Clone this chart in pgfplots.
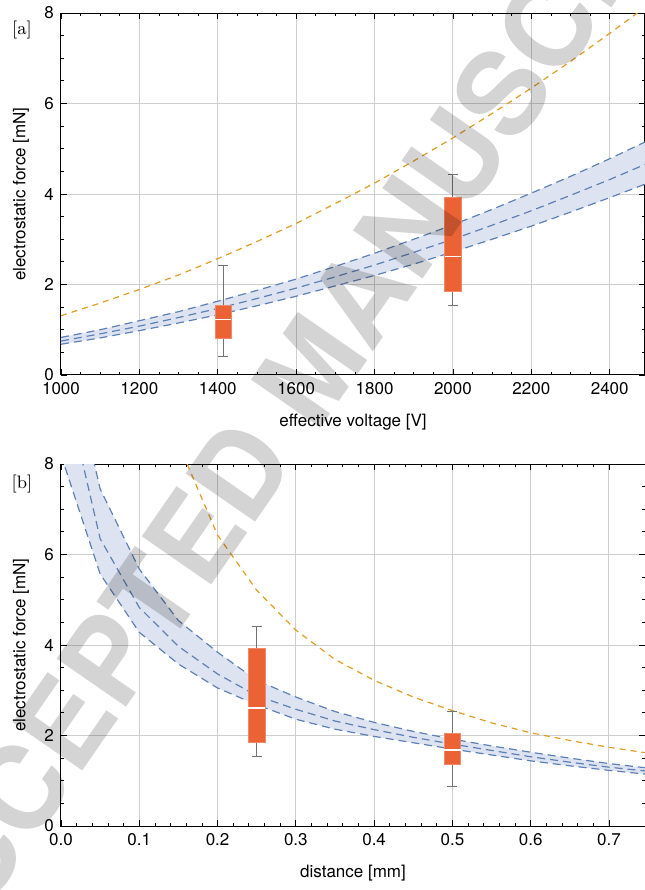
\documentclass[border=0pt]{standalone}
\usepackage{fontspec}
\setsansfont{TeX Gyre Heros}
\usepackage{pgfplots}
\usepackage{pgfplotstable}
\pgfplotsset{compat=1.18}
\usepgfplotslibrary{statistics}

\definecolor{mblue}{rgb}{0.368417,0.506779,0.709798}
\definecolor{morange}{rgb}{0.880722,0.611041,0.142051}
\definecolor{mred}{rgb}{0.922526,0.385626,0.209179}
\definecolor{bandc}{RGB}{221,227,240}
\definecolor{gridc}{RGB}{206,206,206}

% effective voltage [V], model band (upper/mid/lower) and second model (orange)
\pgfplotstableread{
V    up   mid  lo   orange
1000 0.83 0.75 0.68 1.31
1100 1.00 0.91 0.82 1.59
1200 1.20 1.08 0.98 1.89
1300 1.40 1.27 1.15 2.21
1400 1.63 1.47 1.33 2.57
1500 1.87 1.69 1.53 2.95
1600 2.12 1.92 1.74 3.35
1700 2.40 2.17 1.97 3.79
1800 2.69 2.43 2.20 4.24
1900 3.00 2.71 2.45 4.73
2000 3.32 3.00 2.72 5.24
2100 3.66 3.31 3.00 5.78
2200 4.02 3.63 3.29 6.34
2300 4.39 3.97 3.60 6.93
2400 4.78 4.32 3.92 7.55
2500 5.19 4.69 4.25 8.19
}\voltdata

% band outline for (a): upper edge forward, lower edge back
\pgfplotstableread{
V    F
1000 0.83
1100 1.00
1200 1.20
1300 1.40
1400 1.63
1500 1.87
1600 2.12
1700 2.40
1800 2.69
1900 3.00
2000 3.32
2100 3.66
2200 4.02
2300 4.39
2400 4.78
2500 5.19
2500 4.25
2400 3.92
2300 3.60
2200 3.29
2100 3.00
2000 2.72
1900 2.45
1800 2.20
1700 1.97
1600 1.74
1500 1.53
1400 1.33
1300 1.15
1200 0.98
1100 0.82
1000 0.68
}\voltband

% distance [mm]
\pgfplotstableread{
d    up    mid   lo
0.00 11.20 10.10 8.20
0.05 7.45  6.35  5.57
0.10 5.68  4.83  4.28
0.15 4.54  3.97  3.58
0.20 3.84  3.36  3.05
0.25 3.22  2.88  2.68
0.30 2.85  2.58  2.36
0.35 2.53  2.32  2.14
0.40 2.29  2.13  1.98
0.45 2.09  1.96  1.84
0.50 1.92  1.81  1.70
0.55 1.77  1.67  1.57
0.60 1.63  1.53  1.44
0.65 1.50  1.41  1.33
0.70 1.38  1.30  1.23
0.75 1.28  1.21  1.14
}\distdata

% band outline for (b)
\pgfplotstableread{
d    F
0.00 11.20
0.05 7.45
0.10 5.68
0.15 4.54
0.20 3.84
0.25 3.22
0.30 2.85
0.35 2.53
0.40 2.29
0.45 2.09
0.50 1.92
0.55 1.77
0.60 1.63
0.65 1.50
0.70 1.38
0.75 1.28
0.75 1.14
0.70 1.23
0.65 1.33
0.60 1.44
0.55 1.57
0.50 1.70
0.45 1.84
0.40 1.98
0.35 2.14
0.30 2.36
0.25 2.68
0.20 3.05
0.15 3.58
0.10 4.28
0.05 5.57
0.00 8.20
}\distband

\pgfplotstableread{
d    orange
0.15 8.45
0.20 6.43
0.25 5.21
0.30 4.33
0.35 3.68
0.40 3.22
0.45 2.85
0.50 2.55
0.55 2.28
0.60 2.06
0.65 1.89
0.70 1.74
0.75 1.61
}\distorange

\pgfplotsset{
  forceplot/.style={
    scale only axis, width=292pt, height=181pt,
    ymin=0, ymax=8, ytick={0,2,4,6,8}, minor y tick num=3,
    grid=major, major grid style={gridc, line width=0.5pt},
    axis line style={line width=0.5pt},
    tick style={black, line width=0.4pt},
    major tick length=3pt, minor tick length=1.6pt,
    tick align=inside, tick pos=both,
    font=\sffamily\fontsize{8.5}{10}\selectfont,
    /pgf/number format/assume math mode=true,
    /pgf/number format/1000 sep={},
    ylabel={electrostatic force [mN]},
    ylabel style={at={(axis description cs:-0.0685,0.5)}, anchor=center},
    xlabel style={at={(axis description cs:0.5,-0.13)}, anchor=center},
  },
  bandline/.style={mblue, line width=0.6pt, dash pattern=on 4pt off 2.5pt},
  orangeline/.style={morange, line width=0.6pt, dash pattern=on 3pt off 2.5pt},
  boxplot/every box/.style={fill=mred, draw=mred!75!white, line width=0.3pt},
  boxplot/every whisker/.style={black!55, line width=0.5pt},
  boxplot/every median/.style={white, line width=0.6pt},
}

\begin{document}
\begin{tikzpicture}
\begin{axis}[forceplot,
  at={(30.5pt,257.5pt)}, anchor=south west,
  xmin=1000, xmax=2490,
  xtick={1000,1200,...,2400}, minor x tick num=3,
  xlabel={effective voltage [V]},
]
\addplot[fill=bandc, draw=none] table[x=V, y=F] {\voltband} -- cycle;
\addplot[bandline] table[x=V, y=up] {\voltdata};
\addplot[bandline] table[x=V, y=mid] {\voltdata};
\addplot[bandline] table[x=V, y=lo] {\voltdata};
\addplot[orangeline] table[x=V, y=orange] {\voltdata};
\addplot[boxplot prepared={draw direction=y, draw position=1414,
  lower whisker=0.40, lower quartile=0.80, median=1.23,
  upper quartile=1.55, upper whisker=2.42,
  box extend=42, whisker extend=26}] coordinates {};
\addplot[boxplot prepared={draw direction=y, draw position=2000,
  lower whisker=1.54, lower quartile=1.84, median=2.61,
  upper quartile=3.92, upper whisker=4.42,
  box extend=42, whisker extend=26}] coordinates {};
\end{axis}

\begin{axis}[forceplot,
  at={(30.5pt,32pt)}, anchor=south west,
  xmin=0, xmax=0.746,
  xtick={0,0.1,...,0.7}, minor x tick num=4,
  xticklabel style={/pgf/number format/.cd, fixed, fixed zerofill, precision=1},
  xlabel={distance [mm]},
]
\addplot[fill=bandc, draw=none] table[x=d, y=F] {\distband} -- cycle;
\addplot[bandline] table[x=d, y=up] {\distdata};
\addplot[bandline] table[x=d, y=mid] {\distdata};
\addplot[bandline] table[x=d, y=lo] {\distdata};
\addplot[orangeline] table[x=d, y=orange] {\distorange};
\addplot[boxplot prepared={draw direction=y, draw position=0.25,
  lower whisker=1.54, lower quartile=1.84, median=2.61,
  upper quartile=3.92, upper whisker=4.42,
  box extend=0.0211, whisker extend=0.0128}] coordinates {};
\addplot[boxplot prepared={draw direction=y, draw position=0.5,
  lower whisker=0.88, lower quartile=1.37, median=1.68,
  upper quartile=2.05, upper whisker=2.54,
  box extend=0.0211, whisker extend=0.0128}] coordinates {};
\end{axis}

\node[font=\fontsize{9}{10}\selectfont] at (11pt,430pt) {[a]};
\node[font=\fontsize{9}{10}\selectfont] at (11pt,203pt) {[b]};

% watermark of the source page: translucent black, so black text under it stays black
\node[rotate=55.3, text=black, text opacity=0.17,
  font=\sffamily\bfseries\fontsize{58}{60}\selectfont]
  at (156pt,262pt) {ACCEPTED MANUSCRIPT};

\pgfresetboundingbox
\useasboundingbox (0,0) rectangle (322pt,445pt);
\end{tikzpicture}
\end{document}
